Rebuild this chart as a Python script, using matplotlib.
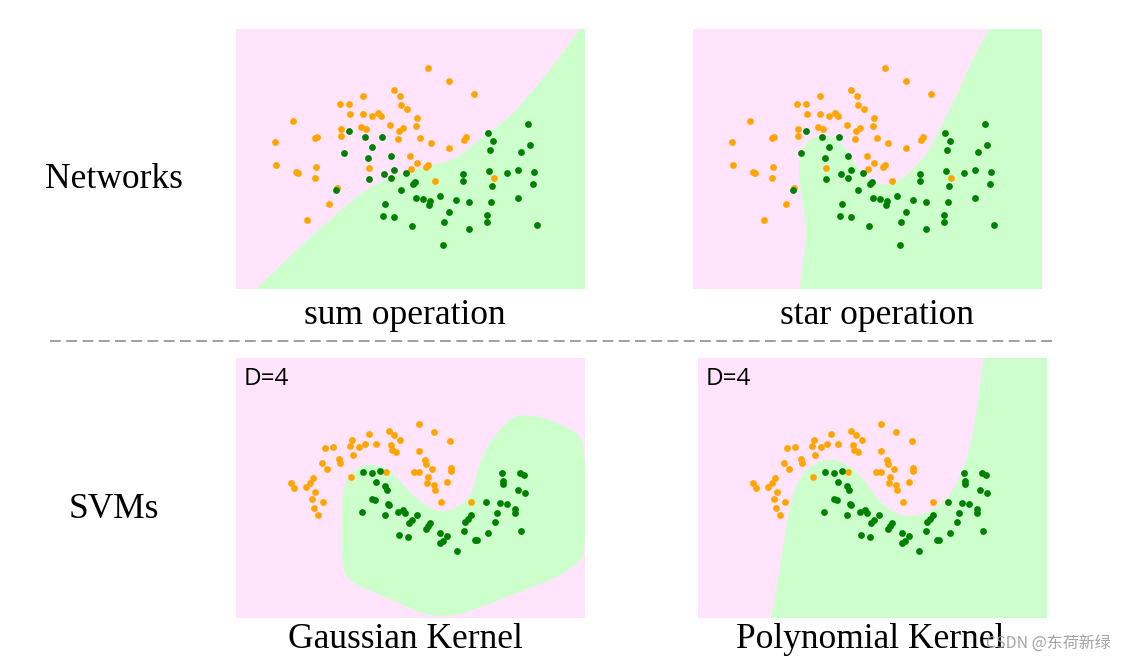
import numpy as np
import matplotlib
matplotlib.use("Agg")
import matplotlib.pyplot as plt
from matplotlib.lines import Line2D

# ---------------- data (panel-local pixel coordinates, y downward) ----------------
top_orange_x = [192, 213.3, 238.3, 158.3, 164, 127.3, 103.7, 113.3, 165, 171.3, 114.3, 127, 136.3, 141.7,
                144.7, 180.7, 57.3, 154.3, 180.3, 124.7, 129.7, 105.3, 162.7, 167, 104.7, 78.7, 80.7, 162.3,
                183.7, 39.3, 194.7, 228.3, 229.7, 213, 174.3, 40.3, 80.3, 133.3, 180.7, 190, 191.7, 174.7,
                60, 61.7, 78.7, 199, 258.3, 100.7, 93, 71.3]
top_orange_y = [39, 52.3, 65.3, 60.7, 67.3, 66.7, 75.3, 75.3, 76, 80.3, 84.7, 85.3, 86.7, 83.7,
                86.7, 89, 92.3, 96.3, 97, 98, 100, 100, 101.7, 99.3, 107.3, 109.3, 108.3, 110,
                109.3, 113.3, 114.3, 110.7, 108.3, 119.3, 127, 135.7, 138.3, 139.3, 134.3, 138, 135.7, 140.3,
                142.7, 144, 148.7, 152.3, 148.7, 158.7, 175, 191]
top_green_x = [113.3, 129.3, 146, 136, 108, 131.7, 154.7, 157.7, 147.7, 155, 170.3, 133, 179.3, 176.7,
               100, 164.7, 179.7, 187.3, 194, 193, 204.3, 219.7, 233, 149.3, 147.3, 157.7, 213, 207.7,
               176.3, 233, 207, 252.3, 256.7, 254, 292.3, 293.7, 285, 252.7, 227.3, 227.3, 271, 282,
               298.3, 296.7, 256, 255.3, 282.3, 251.3, 251.3, 301.3]
top_green_y = [102.3, 107.7, 108.3, 118.3, 124.3, 129.3, 127.3, 141, 144.7, 149.3, 144.3, 150.3, 153, 155.3,
               161.3, 161.3, 169.3, 170.3, 171.7, 176, 167, 171, 172.7, 174.7, 187, 188.3, 183, 192.7,
               197, 199.7, 215.7, 104.3, 111.7, 120.7, 95, 116.3, 123, 142.3, 144.7, 152.3, 144, 141.3,
               142.7, 155.3, 156.7, 173, 169.3, 186.3, 192.7, 196.3]

bottom_orange_x = [183, 197.7, 213.7, 153.3, 158.3, 163.7, 133.3, 115.7, 113.7, 122.7, 128.7, 140, 155.3,
                   156.3, 160.3, 89.3, 97.3, 117.3, 102.7, 103.7, 86.3, 90.7, 183, 189, 190.3, 195.7,
                   215, 215.3, 178.3, 183, 150.3, 115.3, 191.7, 190.7, 198, 199.3, 211, 205, 235,
                   76.7, 74.3, 70.3, 55.3, 57.7, 78.7, 76, 87.3, 78.3, 82.3]
bottom_orange_y = [65.7, 74, 83, 73, 77, 81.7, 76, 82, 87.7, 89.3, 86, 86.3, 87.3,
                   91.7, 94.3, 90.3, 89.3, 97, 101, 104.7, 105, 111, 92.7, 102.3, 106.3, 110.7,
                   110, 113, 114, 114, 113.7, 118.7, 119, 124.7, 126.7, 132, 124.3, 144.3, 144.3,
                   120, 125.3, 128.7, 124.7, 130.3, 133.7, 141, 143.7, 150, 157]
bottom_green_x = [127.3, 135.7, 144, 140, 149.3, 151, 135.7, 139, 152, 153, 126.3, 149, 161.7, 167.3,
                  169, 181.3, 176, 173.3, 193.7, 192, 190.3, 163.3, 172.3, 203.7, 211.3, 206.7, 204.3,
                  221.3, 228.3, 239.3, 240.7, 252, 229.3, 232, 235.3, 250, 258.7, 261, 264.3, 271,
                  266.3, 267, 267.3, 284, 287.7, 281.7, 289.3, 278.7, 279.3, 284.7]
bottom_green_y = [114, 115, 113.3, 124, 127.7, 132, 140.7, 141.7, 145.7, 146.7, 153.7, 157, 154.3, 151.7,
                  155.3, 157.3, 161.7, 165, 165.3, 168.3, 171, 176.7, 179, 174.7, 178, 182.7, 184.7,
                  192.7, 172.7, 182, 182.3, 174.7, 163.7, 160.7, 157.3, 144.3, 164.3, 155, 145, 145.7,
                  115, 122.7, 125.7, 115.3, 117.3, 132, 135.3, 150.7, 154.7, 173]

# decision boundaries (green side), panel-local pixel coordinates
sum_bx = [20, 60.7, 104, 134, 157, 174, 197, 217, 230.7, 247, 274, 297, 314, 344, 350, 350]
sum_by = [260, 221, 181, 157.7, 147.7, 141, 136, 131, 121, 108, 88, 61, 41, 0, 0, 260]

star_bx = [296, 286.7, 276.7, 266.7, 256.7, 246.7, 236.7, 226.7, 213.3, 200, 186.7, 173.3, 163.3, 153.3,
           143.3, 133.3, 120, 111.7, 106.7, 106, 107.3, 110.7, 113.3, 112.7, 110, 107.3, 106, 350, 350]
star_by = [0, 16.7, 36.7, 60, 80, 100, 120, 133.3, 146.7, 155, 156, 150, 136.7, 120,
           109.3, 106, 108.3, 115, 126.7, 140, 160, 180, 200, 216.7, 233.3, 253.3, 260, 260, 0]

gauss_bx = [106.7, 106, 106, 106, 108.3, 120, 140, 160, 180, 200, 220, 240, 266.7, 293.3, 320, 340, 350,
            350, 333.3, 316.7, 293.3, 276.7, 263.3, 250, 241.7, 237.3, 231.7, 218.3, 206.7, 193.3, 180,
            168.3, 156.7, 146.7, 133.3, 121.7, 111.7]
gauss_by = [133.3, 150, 173.3, 200, 216.7, 226.7, 235, 243.3, 253.3, 258.3, 257.3, 250.7, 240.7, 230, 220,
            206.7, 195, 81.7, 70.7, 62.7, 56.7, 58.3, 71.7, 90, 110, 130, 141.7, 150.7, 154.3, 150, 140,
            128.3, 115, 108.3, 106, 109.3, 120]

poly_bx = [286, 283.3, 279.3, 273.3, 266.7, 256.7, 246.7, 233.3, 216.7, 200, 186.7, 176.7, 166.7, 156.7,
           143.3, 133.3, 120, 106.7, 98.3, 93.3, 88.3, 83.3, 78.3, 72.7, 350, 350]
poly_by = [0, 16.7, 50, 83.3, 106.7, 130, 143.3, 153.3, 158.3, 156.7, 148.3, 136.7, 123.3, 111.7,
           103.3, 101, 103.3, 113.3, 126.7, 143.3, 166.7, 200, 233.3, 260, 260, 0]

row_labels = ["Networks", "SVMs"]
panel_titles = ["sum operation", "star operation", "Gaussian Kernel", "Polynomial Kernel"]

PINK = "#ffe4fb"
LGREEN = "#ccffcc"
ORANGE = "#ffa500"
DGREEN = "#008000"
W, H = 349, 260

plt.rcParams['font.family'] = ['Liberation Serif']

fig = plt.figure(figsize=(11.27, 6.61), dpi=100)


def chaikin(x, y, n_iter, closed, n_fixed_tail=0):
    pts = np.column_stack([x, y]).astype(float)
    tail = pts[len(pts) - n_fixed_tail:] if n_fixed_tail else None
    curve = pts[:len(pts) - n_fixed_tail] if n_fixed_tail else pts
    for _ in range(n_iter):
        if closed:
            p = curve
            q = np.roll(curve, -1, axis=0)
            a = 0.75 * p + 0.25 * q
            b = 0.25 * p + 0.75 * q
            curve = np.empty((2 * len(p), 2))
            curve[0::2] = a
            curve[1::2] = b
        else:
            p = curve[:-1]
            q = curve[1:]
            a = 0.75 * p + 0.25 * q
            b = 0.25 * p + 0.75 * q
            mid = np.empty((2 * len(p), 2))
            mid[0::2] = a
            mid[1::2] = b
            curve = np.vstack([curve[:1], mid, curve[-1:]])
    if tail is not None:
        curve = np.vstack([curve, tail])
    return curve[:, 0], curve[:, 1]


def panel(rect, bx, by, closed, tail, ox, oy, gx, gy, dlabel=False):
    ax = fig.add_axes(rect)
    ax.set_xlim(0, W)
    ax.set_ylim(H, 0)
    ax.set_facecolor(PINK)
    sx, sy = chaikin(bx, by, 3, closed, tail)
    ax.fill(sx, sy, color=LGREEN, lw=0, zorder=1)
    ax.scatter(ox, oy, s=24, color=ORANGE, lw=0, zorder=3)
    ax.scatter(gx, gy, s=24, color=DGREEN, lw=0, zorder=3)
    ax.set_xticks([])
    ax.set_yticks([])
    for s in ax.spines.values():
        s.set_visible(False)
    if dlabel:
        ax.text(8, 9, "D=4", fontsize=17.5, family="Open Sans", va="top", ha="left", color="black")
    return ax


def fx(px):
    return px / 1127


def fy(py):
    return 1 - py / 661


pw, ph = 349 / 1127, 260 / 661
panel([fx(236), fy(289), pw, ph], sum_bx, sum_by, False, 2,
      top_orange_x, top_orange_y, top_green_x, top_green_y)
panel([fx(693), fy(289), pw, ph], star_bx, star_by, False, 2,
      top_orange_x, top_orange_y, top_green_x, top_green_y)
panel([fx(236), fy(618), pw, ph], gauss_bx, gauss_by, True, 0,
      bottom_orange_x, bottom_orange_y, bottom_green_x, bottom_green_y, dlabel=True)
panel([fx(698), fy(618), pw, ph], poly_bx, poly_by, False, 2,
      bottom_orange_x, bottom_orange_y, bottom_green_x, bottom_green_y, dlabel=True)

fs = 25.5
fig.text(fx(114), fy(179), row_labels[0], fontsize=fs, ha="center", va="center")
fig.text(fx(114), fy(510), row_labels[1], fontsize=fs, ha="center", va="center")
fig.text(fx(405), fy(316), panel_titles[0], fontsize=fs, ha="center", va="center")
fig.text(fx(877), fy(316), panel_titles[1], fontsize=fs, ha="center", va="center")
fig.text(fx(405), fy(640), panel_titles[2], fontsize=fs, ha="center", va="center")
fig.text(fx(870), fy(640), panel_titles[3], fontsize=fs, ha="center", va="center")

fig.add_artist(Line2D([fx(50), fx(1055)], [fy(341), fy(341)], color="#999999", lw=1.3,
                      linestyle=(0, (6, 3)), transform=fig.transFigure))

fig.text(fx(1111), fy(643), "CSDN @东荷新绿", fontsize=11.5, ha="right", va="center",
         color="#9a9a9a", alpha=0.9, family=["Noto Sans CJK SC", "DejaVu Sans"])

fig.savefig("out.png", dpi=100, facecolor="white")
